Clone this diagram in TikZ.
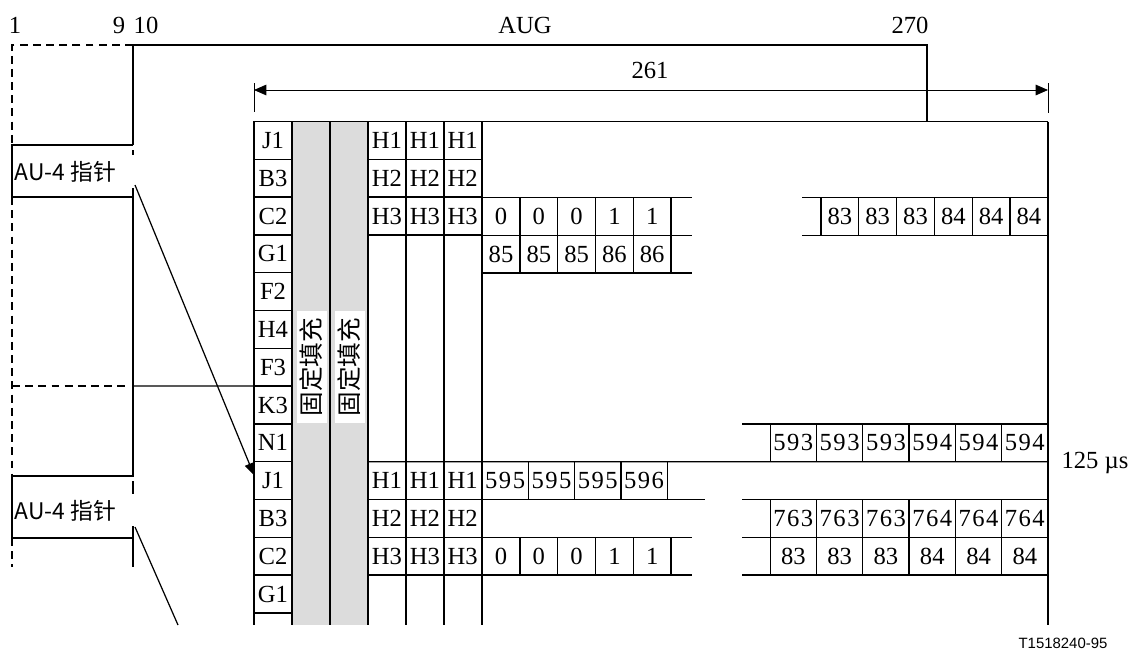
\documentclass[tikz,border=0pt]{standalone}
\usepackage{fontspec}
\setmainfont{Liberation Serif}
\newfontfamily\cjk{Noto Sans CJK SC}
\newfontfamily\spacednum[LetterSpace=6]{Liberation Serif}
\newfontfamily\tagfont{Liberation Sans}
\usetikzlibrary{arrows.meta,positioning,calc}
\definecolor{fixGrey}{RGB}{220,220,220}

\begin{document}
\begin{tikzpicture}[
  x=0.02cm, y=-0.02cm,
  line width=0.7pt,
  every node/.style={font=\fontsize{14}{16}\selectfont},
  cell/.style={draw, minimum width=0.756cm, minimum height=0.756cm,
               inner sep=0pt, outer sep=0pt},
  widecell/.style={cell, minimum width=0.926cm, font=\fontsize{14}{16}\spacednum},
  fixbox/.style={fill=white, rotate=90, inner sep=0pt, minimum width=2.24cm,
                 minimum height=0.6cm, font=\fontsize{14}{16}\cjk},
  ptrlabel/.style={anchor=west, inner sep=0pt, font=\fontsize{13}{15}\cjk},
  arrow/.style={-{Triangle[length=7pt,width=5.5pt]}},
  dimline/.style={line width=0.5pt, {Triangle[length=7pt,width=6pt]}-{Triangle[length=7pt,width=6pt]}},
  frame/.style={dash pattern=on 4.5pt off 3pt}
]
\useasboundingbox (0,0) rectangle (1129,650);

% fixed stuff columns
\fill[fixGrey] (292,121.5) rectangle (368,625);

\foreach \lab [count=\i from 0] in {J1,B3,C2,G1,F2,H4,F3,K3,N1,J1,B3,C2,G1}
  \node[cell] (lab\i) at (273,{140.4+37.8*\i}) {\lab};

\foreach \xx in {254,292,330,368,406,444,482,1048}
  \draw (\xx,121.5) -- (\xx,625);
\draw (254,121.5) -- (1048,121.5);

\node[fixbox] (fix1) at (311.5,367) {固定填充};
\node[fixbox] (fix2) at (349.5,367) {固定填充};

% pointer bytes
\foreach \r/\h in {0/H1,1/H2,2/H3,9/H1,10/H2,11/H3}
  \foreach \c in {0,1,2}
    \node[cell] (h\r-\c) at ({387+37.8*\c},{140.4+37.8*\r}) {\h};

\foreach \v [count=\j from 0] in {0,0,0,1,1} {
  \node[cell] (c2n\j) at ({501+37.8*\j},216.3) {\v};
  \node[cell] (c11n\j) at ({501+37.8*\j},556.2) {\v};
}
\foreach \v [count=\j from 0] in {85,85,85,86,86}
  \node[cell] (g1n\j) at ({501+37.8*\j},254.1) {\v};
\foreach \v [count=\j from 0] in {83,83,83,84,84,84}
  \node[cell] (c2r\j) at ({839.9+37.8*\j},216.3) {\v};
\foreach \v [count=\j from 0] in {593,593,593,594,594,594}
  \node[widecell] (n1r\j) at ({793.35+46.3*\j},442.8) {\v};
\foreach \v [count=\j from 0] in {595,595,595,596}
  \node[widecell] (j1n\j) at ({505.15+46.3*\j},480.6) {\v};
\foreach \v [count=\j from 0] in {763,763,763,764,764,764}
  \node[widecell] (b3r\j) at ({793.35+46.3*\j},518.4) {\v};
\foreach \v [count=\j from 0] in {83,83,83,84,84,84}
  \node[widecell, font=\fontsize{14}{16}\selectfont] (c11r\j) at ({793.35+46.3*\j},556.2) {\v};

\draw (h9-0.north west) -- (n1r5.south east);
\draw (c2n4.north east) -- ++(21,0) (c2n4.south east) -- ++(21,0)
      (g1n4.south east) -- ++(21,0);
\draw (c2r0.north west) -- ++(-19,0) (c2r0.south west) -- ++(-19,0);
\draw (n1r0.north west) -- ++(-28,0);
\draw (j1n3.south east) -- ++(38,0);
\draw (b3r0.north west) -- ++(-28,0) (b3r0.south west) -- ++(-28,0)
      (c11r0.south west) -- ++(-28,0);
\draw (c11n4.north east) -- ++(21,0) (c11n4.south east) -- ++(21,0);

% AUG and 261
\node (one) at (15,25) {1};
\node (nine) at (119,25) {9};
\node (ten) at (146,25) {10};
\node (aug) at (525,25) {AUG};
\node (n270) at (910,25) {270};
\node (n261) at (650,70) {261};
\draw (133,145) -- (133,45) -- (927,45) -- (927,121.5);
\coordinate (d1) at (254,90);
\coordinate (d2) at (1048,90);
\draw[dimline] (d1) -- (d2);
\draw[line width=0.5pt] (254,83) -- (254,112) (1048,83) -- (1048,113);

% AU-4 pointers
\draw[frame] (133,45) -- (12,45) -- (12,145);
\draw (133,145) -- (12,145) -- (12,197) -- (133,197) -- (133,476) -- (12,476)
      -- (12,538) -- (133,538) -- (133,567);
\draw[frame] (12,197) -- (12,476) (12,538) -- (12,567);
\draw[frame] (12,386.1) -- (130,386.1);
\draw (133,386.1) -- (lab7.north west);
\draw (133,150) -- (133,155) (133,188) -- (133,197)
      (133,481) -- (133,494) (133,526) -- (133,538);
\node[ptrlabel] (ptr1) at (14,172) {AU-4 指针};
\node[ptrlabel] (ptr2) at (14,511) {AU-4 指针};
\coordinate (p1) at (135,185);
\draw[arrow] (p1) -- ([yshift=3pt]lab9.west);
\coordinate (p2) at (135,527);
\coordinate (p2end) at (178,625);
\draw (p2) -- (p2end);

\node[anchor=west, inner sep=0pt] (period) at (1061,463) {125 µs};
\node[font=\fontsize{8.5}{10}\tagfont] (figtag) at (1063,643) {T1518240-95};
\end{tikzpicture}
\end{document}
